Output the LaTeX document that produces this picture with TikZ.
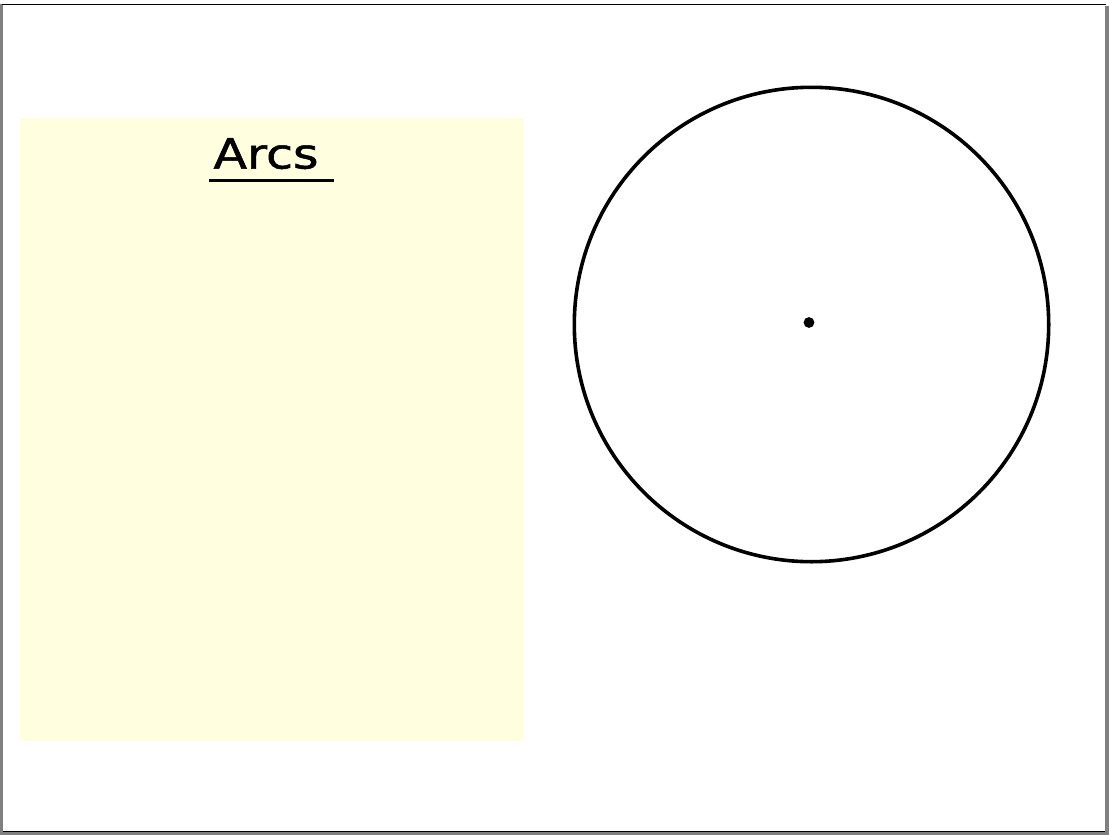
\documentclass[tikz,border=0pt]{standalone}
\usepackage{fontspec}
\setmainfont{DejaVu Sans}
\newfontfamily\titlefont{DejaVu Sans}[FakeBold=1.2]
\definecolor{paleyellow}{RGB}{255,255,224}
\definecolor{framegray}{RGB}{128,128,128}
\begin{document}
\begin{tikzpicture}[x=1pt,y=-1pt,
  outline/.style={line width=3.6pt,draw=black}]
\useasboundingbox (0,0) rectangle (1109,835);
\fill[white] (0,0) rectangle (1109,835);
% frame
\fill[framegray] (0,4) rectangle (2.8,835);
\fill[framegray] (1104.5,6) rectangle (1109,835);
\fill[framegray] (0,831.5) rectangle (1109,835);
\draw[black,line width=1.5pt] (2,4.5) -- (1106,4.5);
\draw[black,line width=0.8pt] (2.8,831.2) -- (1104.5,831.2);
% yellow panel
\fill[paleyellow] (20,118) rectangle (524,741);
\node[inner sep=0pt,anchor=base] (title) at (266,168.5) {\scalebox{1.18}[1]{\titlefont\fontsize{41.5}{48}\selectfont Arcs}};
\draw[line width=3pt] (209,180.5) -- (334,180.5);
% circle
\coordinate (ctr) at (811.5,324.5);
\draw[outline] (ctr) circle[radius=237.2];
\fill[black] (809,322.5) circle[radius=5.4];
\end{tikzpicture}
\end{document}
